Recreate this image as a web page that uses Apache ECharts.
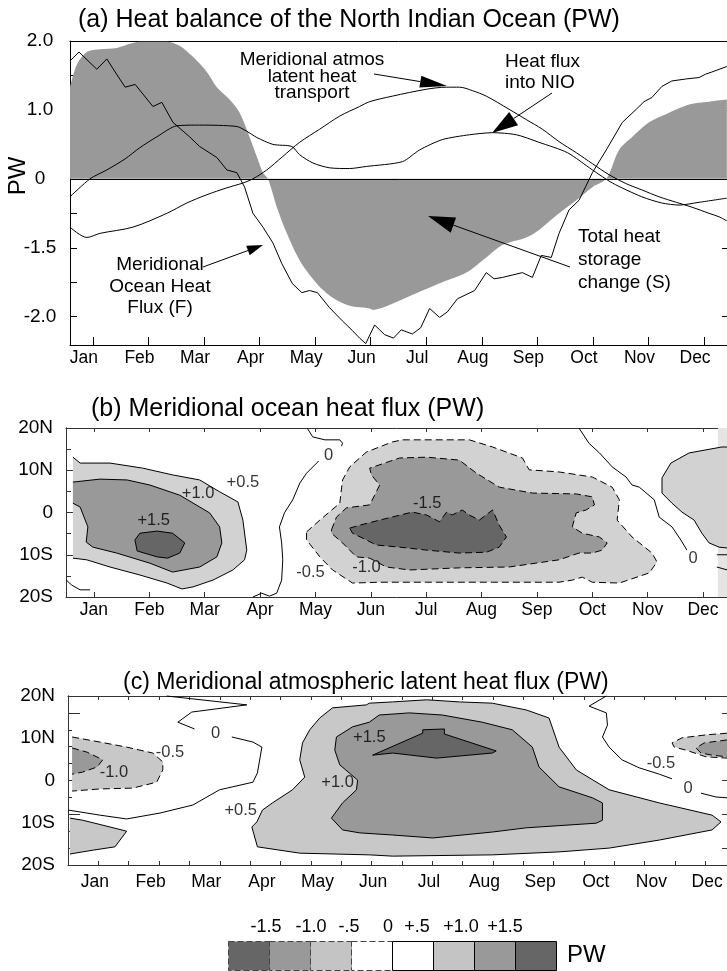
<!DOCTYPE html>
<html><head><meta charset="utf-8">
<script src="https://cdn.jsdelivr.net/npm/echarts@6/dist/echarts.min.js"></script>
<style>html,body{margin:0;padding:0;background:#fff}#c{width:727px;height:971px}</style>
</head><body><div id="c"></div>
<script>
// ---------- data ----------
const months = ['Jan','Feb','Mar','Apr','May','Jun','Jul','Aug','Sep','Oct','Nov','Dec'];
const monthTicks = [1,2,3,4,5,6,7,8,9,10,11,12];
const aTickValues = [2,1,0,-1,-2];
const aTickLabels = ['2.0','1.0','0','-1.5','-2.0'];
const latTickValues = [20,10,0,-10,-20];
const latTickLabels = ['20N','10N','0','10S','20S'];
const legendLabels = ['-1.5','-1.0','-.5','0','+.5','+1.0','+1.5'];

// panel (a) : [month, PW-axis value]
const storageS = [[0.587,1.33],[0.712,1.66],[0.892,1.84],[1.126,1.88],[1.43,1.90],[1.665,1.96],[1.845,1.99],[2.15,1.99],[2.33,1.99],[2.56,1.93],[2.80,1.77],[3.05,1.55],[3.23,1.33],[3.46,1.15],[3.64,0.96],[3.79,0.67],[3.95,0.32],[4.06,0.09],[4.15,0],[4.31,-0.41],[4.49,-0.79],[4.72,-1.18],[5.03,-1.52],[5.31,-1.72],[5.62,-1.84],[5.98,-1.88],[6.03,-1.90],[6.39,-1.81],[6.82,-1.66],[7.29,-1.50],[7.72,-1.36],[8.08,-1.14],[8.37,-0.96],[8.80,-0.85],[9.03,-0.74],[9.39,-0.50],[9.70,-0.31],[9.99,-0.12],[10.24,0],[10.47,0.42],[10.71,0.61],[11.01,0.82],[11.37,0.96],[11.73,1.08],[12.09,1.12],[12.41,1.15]];
const oceanF = [[0.587,1.71],[0.748,1.84],[1.07,1.59],[1.25,1.74],[1.40,1.55],[1.58,1.33],[1.76,1.37],[2.08,1.05],[2.24,1.11],[2.44,0.82],[2.74,0.61],[2.92,0.47],[3.23,0.31],[3.41,0.13],[3.59,0.09],[3.73,-0.12],[3.88,-0.50],[4.06,-0.70],[4.24,-0.93],[4.40,-1.23],[4.59,-1.52],[4.76,-1.65],[4.90,-1.62],[5.04,-1.65],[5.26,-1.87],[5.49,-2.06],[5.67,-2.20],[5.80,-2.31],[5.91,-2.39],[6.07,-2.12],[6.25,-2.26],[6.41,-2.31],[6.55,-2.19],[6.75,-2.25],[6.90,-2.16],[7.06,-1.88],[7.24,-2.01],[7.38,-1.93],[7.56,-1.74],[7.87,-1.62],[8.08,-1.36],[8.22,-1.45],[8.37,-1.43],[8.73,-1.36],[8.91,-1.43],[9.07,-1.11],[9.25,-1.14],[9.39,-0.79],[9.57,-0.45],[9.75,-0.31],[9.99,0.09],[10.24,0.42],[10.53,0.82],[10.78,1.01],[10.92,1.12],[11.06,1.18],[11.24,1.34],[11.42,1.42],[11.68,1.45],[11.91,1.47],[12.03,1.52],[12.14,1.55],[12.41,1.63]];
const atmosLatent = [[0.587,-0.70],[0.89,-0.85],[1.13,-0.79],[1.72,-0.70],[2.33,-0.50],[2.69,-0.35],[3.05,-0.23],[3.41,-0.13],[3.70,-0.06],[3.88,0],[4.13,0.13],[4.41,0.32],[4.72,0.53],[5.08,0.72],[5.44,0.91],[5.80,1.05],[5.98,1.12],[6.39,1.20],[7.00,1.30],[7.36,1.33],[7.60,1.33],[7.83,1.28],[8.08,1.20],[8.49,1.01],[8.80,0.86],[9.09,0.72],[9.39,0.54],[9.70,0.38],[9.99,0.22],[10.29,0.06],[10.60,-0.07],[10.88,-0.16],[11.19,-0.26],[11.50,-0.34],[11.78,-0.41],[12.09,-0.50],[12.27,-0.55],[12.41,-0.61]];
const heatIntoNIO = [[0.587,-0.26],[0.946,0],[1.25,0.13],[1.58,0.29],[1.84,0.45],[2.15,0.61],[2.51,0.77],[2.92,0.78],[3.59,0.76],[3.77,0.69],[3.95,0.60],[4.24,0.50],[4.58,0.47],[4.72,0.35],[4.96,0.23],[5.26,0.16],[5.62,0.15],[5.92,0.18],[6.57,0.25],[6.88,0.42],[7.29,0.57],[7.78,0.64],[8.19,0.67],[8.62,0.64],[9.03,0.53],[9.54,0.38],[9.99,0.13],[10.35,-0.06],[10.88,-0.26],[11.24,-0.35],[11.55,-0.38],[11.91,-0.34],[12.41,-0.28]];

// panel (b) contours : [month, latitude]
const bStrip = [[12.27,-20],[12.44,-20],[12.44,20],[12.27,20]];
const bPos05 = [[0.62,13.1],[0.75,11.7],[1.29,11.7],[1.88,10.5],[2.42,8.9],[2.91,7.7],[3.27,4.9],[3.60,2.5],[3.69,-1.8],[3.76,-8.9],[3.72,-11.2],[3.51,-13.6],[3.15,-16.0],[2.79,-17.6],[2.59,-18.1],[2.32,-16.7],[1.83,-14.8],[1.29,-12.9],[0.87,-11.2],[0.62,-10.8]];
const bPos10 = [[0.62,7.2],[1.11,7.9],[1.60,7.7],[2.01,6.5],[2.55,4.1],[3.09,-0.1],[3.27,-3.4],[3.31,-7.2],[3.22,-10.5],[2.91,-12.9],[2.42,-14.1],[2.01,-12.0],[1.41,-9.6],[0.98,-8.2],[0.86,-7.0],[0.89,-3.4],[0.75,1.3],[0.62,2.2]];
const bPos15 = [[1.74,-6.5],[1.83,-4.9],[2.14,-4.4],[2.42,-4.9],[2.64,-7.2],[2.55,-9.6],[2.33,-10.8],[2.14,-10.5],[1.78,-9.1]];
const bPosEast = [[12.44,15.5],[12.34,15.5],[11.75,14.1],[11.42,11.7],[11.26,8.2],[11.26,4.6],[11.44,2.2],[11.62,0.1],[11.84,-1.8],[11.98,-4.9],[12.11,-7.2],[12.29,-8.2],[12.44,-8.4]];
const bNeg05 = [[4.84,-4.6],[5.08,-1.8],[5.44,2.2],[5.49,7.7],[5.62,10.8],[5.92,14.3],[6.39,16.7],[6.57,17.2],[7.78,17.2],[8.20,15.5],[8.74,12.9],[8.86,10.1],[9.40,9.6],[10.00,8.4],[10.36,6.0],[10.49,3.0],[10.45,-1.8],[10.72,-5.8],[11.08,-9.6],[11.17,-11.7],[11.03,-14.3],[10.49,-16.7],[10.00,-16.5],[9.82,-15.3],[9.64,-16.0],[9.40,-16.5],[8.20,-16.5],[7.01,-16.5],[6.16,-16.5],[5.67,-16.7],[5.31,-13.6],[5.08,-10.5],[4.84,-6.5]];
const bNeg10 = [[5.29,-4.1],[5.38,-1.1],[5.56,1.1],[5.98,1.8],[6.07,4.1],[6.16,6.5],[6.01,8.9],[5.98,10.5],[6.52,12.9],[7.01,13.1],[7.60,12.4],[7.91,9.3],[8.32,6.0],[8.92,4.6],[9.71,4.4],[10.00,3.7],[10.04,1.8],[9.89,0.6],[9.71,-0.1],[9.64,-3.4],[9.82,-4.9],[10.13,-5.8],[10.27,-7.2],[10.18,-8.9],[10.00,-9.6],[9.76,-9.6],[9.40,-11.2],[8.50,-12.9],[7.60,-13.1],[6.70,-13.6],[6.28,-12.9],[5.98,-10.8],[5.74,-10.5],[5.49,-7.2],[5.29,-4.9]];
const bNeg15 = [[5.62,-3.7],[5.80,-3.0],[6.16,-1.8],[6.75,0.1],[7.01,-0.6],[7.24,-2.2],[7.37,0.1],[7.47,-0.6],[7.65,0.6],[7.78,-0.6],[7.96,-1.8],[8.20,0.6],[8.32,-3.0],[8.45,-5.8],[8.32,-8.2],[8.09,-9.4],[7.60,-9.6],[7.01,-8.9],[6.52,-8.2],[6.10,-7.7],[5.92,-6.5],[5.67,-4.9]];
const bZeroTop = [[4.85,20],[4.95,17.9],[5.17,17.2],[5.44,17.2],[5.49,16.4],[5.47,15.7]];
const bZeroWest = [[5.06,12.2],[4.84,9.3],[4.72,7.0],[4.59,3.0],[4.44,-0.1],[4.35,-3.4],[4.39,-7.2],[4.41,-11.2],[4.39,-16.0],[4.30,-19.1],[4.17,-19.8],[4.03,-19.1],[3.87,-20]];
const bZeroEast = [[9.76,20],[9.94,16.4],[10.13,14.1],[10.36,10.8],[10.61,8.4],[10.72,6.5],[10.85,6.0],[11.12,3.0],[11.21,-1.1],[11.44,-3.4],[11.60,-6.5],[11.71,-8.9]];
const bZeroSW = [[0.50,-16.0],[0.60,-17.2],[0.75,-18.3],[0.93,-18.3]];
const bZeroBit1 = [[12.25,-10.0],[12.44,-10.0]];
const bZeroBit2 = [[12.25,-12.9],[12.44,-13.6]];
const bLabels = [{value:[3.69,7.2],name:'+0.5'},{value:[2.88,4.4],name:'+1.0'},{value:[2.08,-1.8],name:'+1.5'},{value:[5.24,13.6],name:'0'},{value:[7.02,2.2],name:'-1.5'},{value:[5.92,-13.1],name:'-1.0'},{value:[4.91,-14.3],name:'-0.5'},{value:[11.82,-10.8],name:'0'}];

// panel (c) contours : [month, latitude]
const cPos05 = [[3.82,-11.0],[3.92,-15.7],[4.68,-17.2],[5.93,-17.6],[6.35,-17.9],[8.14,-17.6],[9.34,-16.9],[10.24,-16.0],[11.14,-14.1],[12.09,-11.7],[12.25,-9.8],[12.09,-8.2],[11.14,-5.3],[10.24,-2.2],[9.65,2.5],[9.34,7.9],[9.16,14.8],[8.75,16.7],[8.14,18.3],[7.55,18.6],[6.96,19.1],[6.35,18.6],[5.93,18.3],[5.88,17.9],[5.27,17.2],[5.04,14.8],[4.86,12.0],[4.73,8.9],[4.68,4.9],[4.77,0.8],[4.55,-2.2],[4.19,-5.3],[4.01,-7.0],[3.91,-9.8]];
const cPos10 = [[5.34,10.3],[5.63,12.7],[5.93,13.8],[6.11,15.5],[6.65,16.0],[7.24,15.5],[7.96,13.8],[8.50,12.0],[8.86,7.9],[8.98,3.2],[9.34,-1.5],[9.94,-4.1],[10.12,-5.3],[10.12,-9.4],[10.01,-10.1],[8.75,-11.2],[8.14,-12.2],[7.07,-13.6],[6.35,-12.9],[5.76,-12.4],[5.45,-11.7],[5.25,-8.9],[5.45,-5.3],[5.70,-2.2],[5.72,0.1],[5.40,3.7],[5.31,7.2]];
const cPos15 = [[5.99,6.0],[6.89,11.2],[6.89,12.0],[7.28,12.2],[7.28,11.0],[8.21,7.0],[8.14,6.5],[7.14,5.3],[6.35,6.5]];
const cPosSW = [[0.55,-8.9],[0.78,-9.4],[1.27,-11.0],[1.57,-12.0],[1.36,-15.7],[0.96,-16.5],[0.55,-17.4]];
const cNeg05W = [[0.59,10.3],[1.09,9.1],[1.57,7.9],[2.04,6.5],[2.22,4.4],[2.22,2.5],[2.11,-0.4],[1.68,-1.8],[1.09,-2.0],[0.59,-2.5]];
const cNeg10W = [[0.59,7.7],[0.86,6.7],[1.14,4.9],[1.04,3.2],[0.78,2.0],[0.59,1.5]];
const cNeg05E = [[12.36,11.2],[11.98,10.8],[11.55,10.1],[11.37,8.9],[11.41,7.9],[11.62,7.2],[11.98,5.6],[12.36,5.3]];
const cNeg10E = [[12.36,9.6],[11.95,8.9],[11.80,7.7],[11.89,6.5],[12.09,6.0],[12.36,5.6]];
const cZeroW1 = [[2.29,20],[3.73,17.9],[2.74,16.2],[2.49,13.8],[2.79,12.2]];
const cZeroW2 = [[3.46,10.3],[3.84,9.1],[4.00,7.9],[3.92,1.8],[3.84,-0.4],[3.24,-2.2],[2.76,-5.8],[2.17,-7.7],[1.57,-9.1],[1.09,-8.2],[0.52,-7.0]];
const cZeroE1 = [[10.19,20],[9.88,17.6],[10.19,16.0],[10.21,13.1],[10.12,10.3],[10.24,7.9],[10.47,4.9],[10.78,3.0],[11.14,1.5],[11.37,0.4]];
const cZeroE2 = [[11.89,-3.0],[12.16,-3.9],[12.36,-4.1]];
const cLabels = [{value:[3.17,11.2],name:'0'},{value:[2.35,6.7],name:'-0.5'},{value:[1.34,2.0],name:'-1.0'},{value:[3.62,-7.2],name:'+0.5'},{value:[5.36,-0.4],name:'+1.0'},{value:[5.93,10.3],name:'+1.5'},{value:[11.17,4.1],name:'-0.5'},{value:[11.66,-1.8],name:'0'}];

// ---------- styles ----------
const FONT = '"Liberation Sans", Arial, Helvetica, sans-serif';
const DARK = '#666666', MID = '#999999', LIGHT_B = '#d2d2d2', LIGHT_C = '#c8c8c8', LIGHT_L = '#c4c4c4', STRIP = '#e4e4e4';
const FRAME = '#333';

function contourSeries(xi, yi, shapes) {
  return {
    type: 'custom', xAxisIndex: xi, yAxisIndex: yi, silent: true, z: 3,
    data: shapes.map(s => s.pts[0]),
    renderItem(params, api) {
      const s = shapes[params.dataIndex];
      const pts = s.pts.map(p => api.coord(p));
      const children = [];
      if (s.fill) children.push({type: 'polygon', shape: {points: pts}, style: {fill: s.fill, stroke: null}});
      if (s.line !== false) {
        const lp = s.closed ? pts.concat([pts[0]]) : pts;
        children.push({type: 'polyline', shape: {points: lp}, style: {fill: null, stroke: '#000', lineWidth: 1, lineDash: s.dash ? [7, 4] : null}});
      }
      return {type: 'group', children};
    }
  };
}
function labelSeries(xi, yi, data) {
  return {
    type: 'scatter', xAxisIndex: xi, yAxisIndex: yi, silent: true, z: 5,
    symbolSize: 1, itemStyle: {color: 'rgba(0,0,0,0)'}, data,
    label: {show: true, position: 'inside', formatter: '{b}', fontSize: 16.5, color: '#000', fontFamily: FONT}
  };
}

const bShapes = [
  {pts: bStrip, fill: STRIP, line: false},
  {pts: bPos05, fill: LIGHT_B},
  {pts: bPos10, fill: MID},
  {pts: bPos15, fill: DARK, closed: true},
  {pts: bPosEast, fill: LIGHT_B},
  {pts: bNeg05, fill: LIGHT_B, closed: true, dash: true},
  {pts: bNeg10, fill: MID, closed: true, dash: true},
  {pts: bNeg15, fill: DARK, closed: true, dash: true},
  {pts: bZeroTop}, {pts: bZeroWest}, {pts: bZeroEast}, {pts: bZeroSW}, {pts: bZeroBit1}, {pts: bZeroBit2}
];
const cShapes = [
  {pts: cPos05, fill: LIGHT_C, closed: true},
  {pts: cPos10, fill: MID, closed: true},
  {pts: cPos15, fill: DARK, closed: true},
  {pts: cPosSW, fill: LIGHT_C},
  {pts: cNeg05W, fill: LIGHT_C, dash: true},
  {pts: cNeg10W, fill: MID, dash: true},
  {pts: cNeg05E, fill: LIGHT_C, dash: true},
  {pts: cNeg10E, fill: MID, dash: true},
  {pts: cZeroW1}, {pts: cZeroW2}, {pts: cZeroE1}, {pts: cZeroE2}
];

const noSplit = {show: false};
function monthAxis(grid, min, max, pos, opts) {
  const base = {
    type: 'value', gridIndex: grid, min, max, position: pos,
    splitLine: noSplit, axisTick: {show: false}, axisLabel: {show: false}
  };
  Object.assign(base, opts);
  base.axisLine = Object.assign({show: true, lineStyle: {color: '#000', width: 1}}, opts.axisLine || {}, {onZero: false});
  return base;
}

const monthLabel = (margin, pad) => ({
  show: true, customValues: monthTicks, formatter: v => months[Math.round(v) - 1],
  fontSize: 17.5, color: '#000', fontFamily: FONT, margin, padding: pad
});

const xAxis = [
  // (a)
  monthAxis(0, 0.587, 12.413, 'bottom', {
    axisTick: {show: true, inside: true, length: 8, customValues: monthTicks, lineStyle: {color: '#000'}},
    axisLabel: monthLabel(4, [0, 18, 0, 0])
  }),
  monthAxis(0, 0.587, 12.413, 'top', {}),
  // (b)
  monthAxis(1, 0.495, 12.434, 'bottom', {
    axisLine: {show: true, lineStyle: {color: FRAME}},
    axisTick: {show: true, inside: true, length: 5, customValues: monthTicks, lineStyle: {color: FRAME}},
    axisLabel: monthLabel(4, 0)
  }),
  monthAxis(1, 0.495, 12.434, 'top', {
    axisLine: {show: true, lineStyle: {color: FRAME}},
    axisTick: {show: true, inside: true, length: 4, customValues: monthTicks, lineStyle: {color: FRAME}}
  }),
  // (c)
  monthAxis(2, 0.516, 12.358, 'bottom', {axisLine: {show: false}, axisLabel: monthLabel(8, 0)}),
  monthAxis(2, 0, 21.71, 'bottom', {interval: 1, axisLine: {show: true, lineStyle: {color: FRAME}},
    axisTick: {show: true, inside: true, length: 4, lineStyle: {color: FRAME}}}),
  monthAxis(2, 0, 21.71, 'top', {interval: 1, axisLine: {show: true, lineStyle: {color: FRAME}},
    axisTick: {show: true, inside: true, length: 4, lineStyle: {color: FRAME}}})
];

function latAxis(grid, pos, opts) {
  return Object.assign({
    type: 'value', gridIndex: grid, min: -20, max: 20, position: pos, splitLine: noSplit,
    axisLine: {show: pos === 'left', onZero: false, lineStyle: {color: FRAME}}, axisTick: {show: false}, axisLabel: {show: false}
  }, opts);
}
const latLabel = {show: true, customValues: latTickValues, formatter: v => latTickLabels[latTickValues.indexOf(v)],
  fontSize: 19, color: '#000', fontFamily: FONT, margin: 13};

const yAxis = [
  // (a)
  {type: 'value', gridIndex: 0, min: -2.41, max: 2, position: 'left', splitLine: noSplit,
    axisLine: {show: true, onZero: false, lineStyle: {color: '#000'}},
    axisTick: {show: true, inside: true, length: 7, customValues: [2,1.5,1,0.5,0,-0.5,-1,-1.5,-2], lineStyle: {color: '#000'}},
    axisLabel: {show: true, customValues: aTickValues, formatter: v => aTickLabels[aTickValues.indexOf(v)],
      fontSize: 19, color: '#000', fontFamily: FONT, margin: 30, align: 'center'}},
  {type: 'value', gridIndex: 0, min: -2.41, max: 2, position: 'right', splitLine: noSplit,
    axisLine: {show: false, onZero: false},
    axisTick: {show: true, inside: true, length: 5, customValues: aTickValues, lineStyle: {color: '#000'}},
    axisLabel: {show: false}},
  // (b)
  latAxis(1, 'left', {axisTick: {show: true, inside: true, length: 13, customValues: [10,0,-10], lineStyle: {color: FRAME}}, axisLabel: latLabel}),
  latAxis(1, 'left', {axisTick: {show: true, inside: true, length: 5, customValues: [15,5,-5,-15], lineStyle: {color: FRAME}}}),
  // (c)
  latAxis(2, 'left', {axisTick: {show: true, inside: true, length: 12, customValues: [16,8,0,-8,-16], lineStyle: {color: FRAME}}, axisLabel: latLabel}),
  latAxis(2, 'left', {axisTick: {show: true, inside: true, length: 4, customValues: [12,4,-4,-12], lineStyle: {color: FRAME}}}),
  latAxis(2, 'right', {axisTick: {show: true, inside: true, length: 5, customValues: [16,8,0,-8,-16], lineStyle: {color: FRAME}}})
];

const lineStyleA = {color: '#000', width: 1};
const series = [
  {type: 'line', name: 'S', xAxisIndex: 0, yAxisIndex: 0, data: storageS, smooth: 0.3, showSymbol: false, silent: true,
    lineStyle: {width: 0}, areaStyle: {color: '#999999', opacity: 1}, z: 1,
    markLine: {silent: true, symbol: 'none', label: {show: false}, lineStyle: {color: '#000', width: 1, type: 'solid'}, data: [{yAxis: 0}], animation: false}},
  {type: 'line', name: 'F', xAxisIndex: 0, yAxisIndex: 0, data: oceanF, showSymbol: false, silent: true, lineStyle: lineStyleA, z: 3},
  {type: 'line', name: 'Atmos', xAxisIndex: 0, yAxisIndex: 0, data: atmosLatent, smooth: 0.3, showSymbol: false, silent: true, lineStyle: lineStyleA, z: 3},
  {type: 'line', name: 'NIO', xAxisIndex: 0, yAxisIndex: 0, data: heatIntoNIO, smooth: 0.25, showSymbol: false, silent: true, lineStyle: lineStyleA, z: 3},
  contourSeries(2, 2, bShapes),
  labelSeries(2, 2, bLabels),
  contourSeries(4, 4, cShapes),
  labelSeries(4, 4, cLabels)
];

// ---------- graphic (titles, annotations, legend) ----------
function txt(x, y, text, size, align, extra) {
  return Object.assign({type: 'text', x, y, silent: true, z: 100,
    style: {text, font: size + 'px ' + FONT, fill: '#000', align: align || 'left', verticalAlign: 'middle',
      textAlign: align || 'left', textVerticalAlign: 'middle'}}, extra || {});
}
function multi(x, y, lines, size, lh, align) {
  return lines.map((l, i) => txt(x, y + i * lh, l, size, align));
}
function arrow(x1, y1, x2, y2, hl, hw) {
  const dx = x2 - x1, dy = y2 - y1, L = Math.sqrt(dx * dx + dy * dy), ux = dx / L, uy = dy / L;
  const bx = x2 - ux * hl, by = y2 - uy * hl;
  return [
    {type: 'line', silent: true, z: 100, shape: {x1, y1, x2: bx, y2: by}, style: {stroke: '#000', lineWidth: 1}},
    {type: 'polygon', silent: true, z: 100, shape: {points: [[x2, y2], [bx - uy * hw, by + ux * hw], [bx + uy * hw, by - ux * hw]]}, style: {fill: '#000'}}
  ];
}

const g = [];
g.push(txt(78, 20, '(a) Heat balance of the North Indian Ocean (PW)', 25));
g.push(txt(91, 409, '(b) Meridional ocean heat flux (PW)', 25));
g.push(txt(123, 683, '(c) Meridional atmospheric latent heat flux (PW)', 23));
g.push(txt(18, 176, 'PW', 24, 'center', {rotation: Math.PI / 2}));
g.push(...multi(312, 60, ['Meridional atmos', 'latent heat', 'transport'], 19, 16.5, 'center'));
g.push(...multi(505, 62, ['Heat flux', 'into NIO'], 19, 21, 'left'));
g.push(...multi(578, 237, ['Total heat', 'storage', 'change (S)'], 19, 23, 'left'));
g.push(...multi(160, 265, ['Meridional', 'Ocean Heat', 'Flux (F)'], 19, 21.5, 'center'));
g.push(...arrow(374, 74, 447, 86, 27, 6));
g.push(...arrow(552, 93, 492, 133, 26, 8));
g.push(...arrow(570, 267, 428, 216, 27, 8));
g.push(...arrow(203, 267, 263, 245, 16, 5));

// legend
const legFills = [DARK, MID, LIGHT_L, '#ffffff', '#ffffff', LIGHT_L, MID, DARK];
legFills.forEach((f, i) => {
  g.push({type: 'rect', silent: true, z: 100, shape: {x: 228.5 + i * 41, y: 941.5, width: 41, height: 29},
    style: {fill: f, stroke: i < 4 ? '#444' : '#000', lineWidth: 1, lineDash: i < 4 ? [6, 3] : null}});
});
const legLabelX = [266, 311, 349, 388, 417, 461, 505];
legendLabels.forEach((l, i) => g.push(txt(legLabelX[i], 927, l, 18, 'center')));
g.push(txt(567, 955, 'PW', 24, 'left'));

const option = {
  animation: false,
  textStyle: {fontFamily: FONT},
  grid: [
    {left: 70, top: 41, width: 658, height: 304},
    {left: 66, top: 428, width: 662, height: 169},
    {left: 68, top: 696, width: 660, height: 169}
  ],
  xAxis, yAxis, series,
  graphic: {elements: g}
};
const chart = echarts.init(document.getElementById('c'), null, {renderer: 'canvas', width: 727, height: 971});
chart.setOption(option);
</script></body></html>
